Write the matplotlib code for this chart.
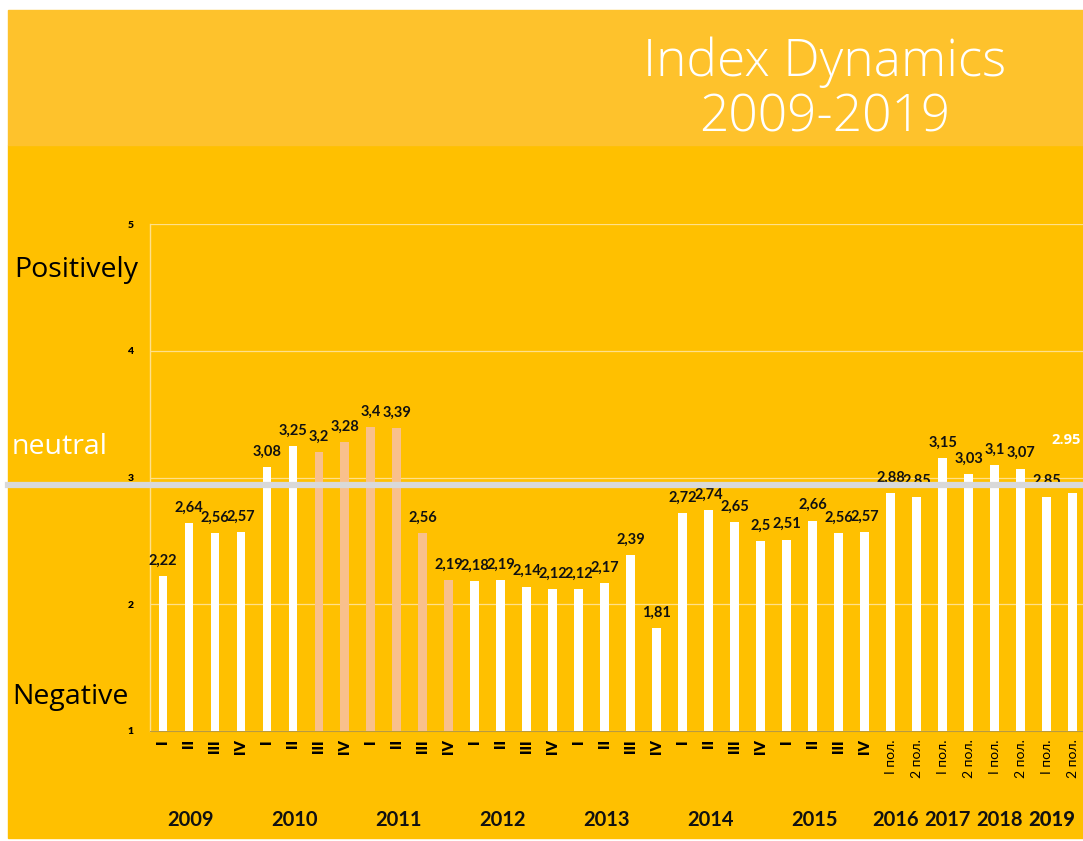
import matplotlib
matplotlib.use("Agg")
import matplotlib.pyplot as plt
from matplotlib.patches import Rectangle
from matplotlib.lines import Line2D

# ---------------- data ----------------
values = [2.22, 2.64, 2.56, 2.57,
          3.08, 3.25, 3.20, 3.28,
          3.40, 3.39, 2.56, 2.19,
          2.18, 2.19, 2.14, 2.12,
          2.12, 2.17, 2.39, 1.81,
          2.72, 2.74, 2.65, 2.50,
          2.51, 2.66, 2.56, 2.57,
          2.88, 2.85,
          3.15, 3.03,
          3.10, 3.07,
          2.85, 2.88]
value_labels = ["2,22", "2,64", "2,56", "2,57",
                "3,08", "3,25", "3,2", "3,28",
                "3,4", "3,39", "2,56", "2,19",
                "2,18", "2,19", "2,14", "2,12",
                "2,12", "2,17", "2,39", "1,81",
                "2,72", "2,74", "2,65", "2,5",
                "2,51", "2,66", "2,56", "2,57",
                "2,88", "2,85",
                "3,15", "3,03",
                "3,1", "3,07",
                "2,85", "2.95"]
highlight = [False] * 6 + [True] * 6 + [False] * 24
tick_labels = (["I", "II", "III", "IV"] * 7 +
               ["I пол.", "2 пол."] * 4)
years = ["2009", "2010", "2011", "2012", "2013", "2014", "2015",
         "2016", "2017", "2018", "2019"]
year_sizes = [4, 4, 4, 4, 4, 4, 4, 2, 2, 2, 2]
yticks = [1, 2, 3, 4, 5]
neutral_level = 2.94

side_labels = ["Positively", "neutral", "Negative"]
title_lines = "Index Dynamics\n2009-2019"

# ---------------- style ----------------
W, H = 1083, 841
BG = "#FFC000"
BAND = "#FEC22C"
WHITE = "#FFFFFF"
PEACH = "#F9C08C"
fam = ["Lato", "DejaVu Sans"]
fam2 = ["Open Sans", "DejaVu Sans"]

fig = plt.figure(figsize=(W / 100, H / 100), dpi=100)
fig.patch.set_facecolor("white")

def fx(px):
    return px / W

def fy(py):
    return 1 - py / H

# background panels
fig.add_artist(Rectangle((fx(8), fy(838)), fx(W - 8), (838 - 145) / H,
                         transform=fig.transFigure, color=BG, zorder=0))
fig.add_artist(Rectangle((fx(8), fy(145)), fx(W - 8), (145 - 10) / H,
                         transform=fig.transFigure, color=BAND, zorder=0))

ax = fig.add_axes([fx(150), fy(731), fx(W) - fx(150), fy(224) - fy(731)])
ax.set_facecolor("none")

x = list(range(len(values)))
colors = [PEACH if h else WHITE for h in highlight]
ax.bar(x, [v - 1 for v in values], bottom=1, width=0.34, color=colors, zorder=3)

ax.set_xlim(-0.5, 35.4)
ax.set_ylim(1, 5)
ax.set_yticks(yticks)
ax.set_yticklabels([str(t) for t in yticks], fontsize=7.5, fontweight="heavy",
                   family=fam)
ax.tick_params(axis="y", length=0, pad=12)
ax.grid(axis="y", color="#FFE08A", linewidth=0.9, zorder=1)
for s in ["top", "right"]:
    ax.spines[s].set_visible(False)
ax.spines["left"].set_color("#FFE08A")
ax.spines["left"].set_linewidth(1.0)
ax.spines["bottom"].set_color("#B89A40")
ax.spines["bottom"].set_linewidth(0.8)

ax.set_xticks(x)
ax.set_xticklabels(tick_labels, rotation=90, fontsize=10.5, fontweight="heavy",
                   family=fam, va="top", ha="center")
ax.tick_params(axis="x", length=0, pad=6)
for i, lab in enumerate(ax.get_xticklabels()):
    if i >= 28:
        lab.set_fontweight("normal")
        lab.set_fontsize(10)

# value labels
for i, (v, lab) in enumerate(zip(values, value_labels)):
    if i == len(values) - 1:
        fig.text(fx(1081), fy(440), lab, ha="right", va="center",
                 fontsize=10.5, fontweight="bold", color="white", family=fam2)
    else:
        ax.annotate(lab, (i, v), xytext=(0, 6), textcoords="offset points",
                    ha="center", va="bottom", fontsize=10.5, fontweight="bold",
                    color="#111111", family=fam, zorder=5)

# year labels
start = 0
for k, (yr, n) in enumerate(zip(years, year_sizes)):
    center = start + (n - 1) / 2 - (0.45 if n == 4 else 0.3)
    ax.text(center, -0.175, yr, transform=ax.get_xaxis_transform(),
            ha="center", va="center", fontsize=14.5,
            fontweight="black" if yr == "2019" else "bold",
            color="#111111", family=fam)
    start += n

# neutral grey line across figure
yline = ax.transData.transform((0, neutral_level))[1]
yline_fig = fig.transFigure.inverted().transform((0, yline))[1]
fig.add_artist(Line2D([fx(8), 1.0], [yline_fig, yline_fig],
                      transform=fig.transFigure, color="#D9D9D9",
                      linewidth=4.5, zorder=2))

# side labels
fig.text(fx(14), fy(270), side_labels[0], fontsize=20.5, color="black",
         ha="left", va="center", family=fam2)
fig.text(fx(12), fy(447), side_labels[1], fontsize=20.5, color="white",
         ha="left", va="center", family=fam2)
fig.text(fx(12), fy(697), side_labels[2], fontsize=20.5, color="black",
         ha="left", va="center", family=fam2)

# title
fig.text(fx(825), fy(90), title_lines, fontsize=37, color="white",
         ha="center", va="center", linespacing=1.12,
         family=fam2, fontweight="light")

fig.savefig("out.png", dpi=100, facecolor=fig.get_facecolor())
